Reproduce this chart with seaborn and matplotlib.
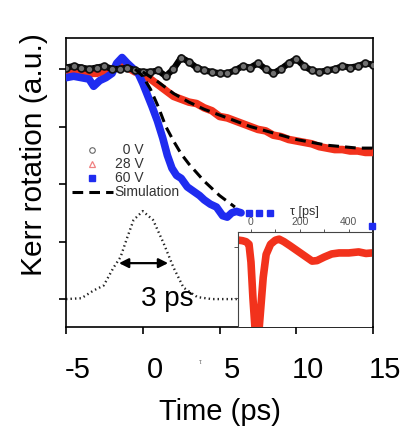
import numpy as np
import pandas as pd
import seaborn as sns
import matplotlib
matplotlib.use("Agg")
import matplotlib.pyplot as plt
from matplotlib.lines import Line2D
import matplotlib.transforms as mtrans

# ---------------- data ----------------
t_0v = [-5, -4.5, -4, -3.5, -3, -2.5, -2, -1.5, -1, -0.5, 0, 0.5, 1, 1.5, 2, 2.5, 3, 3.5, 4, 4.5,
        5, 5.5, 6, 6.5, 7, 7.5, 8, 8.5, 9, 9.5, 10, 10.5, 11, 11.5, 12, 12.5, 13, 13.5, 14, 14.5, 15]
kerr_0v = [1.005, 1.01, 1.005, 1.0, 1.005, 1.01, 1.0, 1.0, 1.005, 0.995, 0.99, 0.99, 0.995, 0.975,
           1.0, 1.04, 1.025, 1.005, 0.995, 0.99, 0.985, 0.985, 0.995, 1.01, 1.005, 1.02, 1.0, 0.985,
           1.0, 1.02, 1.035, 1.01, 0.995, 0.99, 0.995, 1.0, 1.01, 1.005, 1.01, 1.02, 1.015]

t_28v = [-5, -4, -3, -2, -1.5, -1, -0.5, 0, 0.5, 1, 1.5, 2, 2.5, 3, 3.5, 4, 4.5, 5, 5.5, 6, 6.5,
         7, 7.5, 8, 8.5, 9, 9.5, 10, 10.5, 11, 11.5, 12, 12.5, 13, 13.5, 14, 14.5, 15]
kerr_28v = [0.99, 0.985, 0.985, 1.0, 1.01, 1.005, 0.99, 0.98, 0.965, 0.945, 0.925, 0.905, 0.895,
            0.885, 0.88, 0.865, 0.855, 0.835, 0.83, 0.82, 0.81, 0.80, 0.79, 0.785, 0.77, 0.765,
            0.755, 0.75, 0.745, 0.74, 0.73, 0.725, 0.72, 0.72, 0.715, 0.715, 0.71, 0.71]

t_60v = [-5, -4.5, -4, -3.5, -3.2, -2.8, -2.4, -2.0, -1.7, -1.35, -1.0, -0.6, -0.3, 0.0, 0.3, 0.6,
         0.95, 1.3, 1.6, 1.9, 2.2, 2.5, 2.9, 3.3, 3.7, 4.0, 4.4, 4.8, 5.2, 5.5, 5.8, 6.1, 6.4]
kerr_60v = [0.97, 0.975, 0.97, 0.965, 0.94, 0.96, 0.97, 0.985, 1.02, 1.04, 1.02, 1.0, 0.985, 0.95,
            0.91, 0.87, 0.82, 0.76, 0.70, 0.655, 0.63, 0.62, 0.59, 0.575, 0.56, 0.545, 0.53, 0.52,
            0.49, 0.485, 0.5, 0.505, 0.5]
t_60v_tail = [6.9, 7.6, 8.3, 14.9]
kerr_60v_tail = [0.5, 0.5, 0.5, 0.455]

t_sim28 = [0, 1, 2, 3, 4, 5, 6, 7, 8, 9, 10, 11, 12, 13, 14, 15]
sim_28v = [0.99, 0.955, 0.915, 0.885, 0.86, 0.84, 0.82, 0.80, 0.785, 0.77, 0.755, 0.745, 0.735,
           0.73, 0.725, 0.725]

t_sim60 = [-0.5, 0, 0.5, 1, 1.5, 2, 2.5, 3, 3.5, 4, 4.5, 5, 5.5, 6]
sim_60v = [1.0, 0.975, 0.93, 0.87, 0.80, 0.75, 0.705, 0.67, 0.64, 0.61, 0.585, 0.56, 0.54, 0.52]

pulse_t = [-5, -4, -3.2, -2.55, -1.9, -1.45, -1.0, -0.6, 0, 0.67, 1.35, 2.0, 2.65, 3.55, 4.5, 6.2]
pulse_y = [0.2, 0.203, 0.23, 0.247, 0.31, 0.346, 0.416, 0.475, 0.506, 0.475, 0.395, 0.31, 0.24,
           0.207, 0.2, 0.2]

inset_tau = [-50, -35, -20, -8, 0, 8, 18, 30, 40, 50, 62, 80, 100, 115, 135, 160, 190, 220, 250,
             270, 300, 330, 360, 400, 440, 470, 495]
inset_kerr = [0.13, 0.12, 0.10, 0.05, -0.3, -1.0, -1.7, -1.8, -1.2, -0.6, -0.15, 0.05, 0.13, 0.15,
              0.1, 0.02, -0.08, -0.18, -0.28, -0.27, -0.2, -0.14, -0.12, -0.12, -0.1, -0.13, -0.12]

x_ticks = [-5, 0, 5, 10, 15]
y_ticks = [0.2, 0.4, 0.6, 0.8, 1.0]
inset_ticks = [0, 200, 400]
legend_labels = ["  0 V", "28 V", "60 V", "Simulation"]

RED = "#f2321c"
BLUE = "#1f2cf0"

# ---------------- figure ----------------
sns.set_style("ticks")
plt.rcParams["font.family"] = ["Liberation Sans", "DejaVu Sans"]
plt.rcParams["text.color"] = "black"
plt.rcParams["axes.labelcolor"] = "black"
plt.rcParams["xtick.color"] = "black"
plt.rcParams["ytick.color"] = "black"

fig = plt.figure(figsize=(4.10, 4.29), dpi=100)
ax = fig.add_axes([0.161, 0.2378, 0.749, 0.6737])

sns.lineplot(x=t_28v, y=kerr_28v, ax=ax, color=RED, lw=5.5, zorder=3, sort=False)
sns.lineplot(x=t_60v, y=kerr_60v, ax=ax, color=BLUE, lw=5.5, zorder=4, sort=False)
ax.plot(t_60v_tail, kerr_60v_tail, ls="none", marker="s", ms=5, color=BLUE, zorder=4, clip_on=False)
sns.lineplot(x=t_0v, y=kerr_0v, ax=ax, color="black", lw=4.5, zorder=5, sort=False,
             marker="o", markersize=5, markerfacecolor="#707070", markeredgecolor="#111111",
             markeredgewidth=1.2)
sns.lineplot(x=t_sim28, y=sim_28v, ax=ax, color="black", lw=2.2, zorder=6, sort=False,
             linestyle=(0, (3.5, 2)))
sns.lineplot(x=t_sim60, y=sim_60v, ax=ax, color="black", lw=2.2, zorder=6, sort=False,
             linestyle=(0, (3.5, 2)))
sns.lineplot(x=pulse_t, y=pulse_y, ax=ax, color="#222222", lw=1.7, zorder=2, sort=False,
             linestyle=(0, (0.6, 1.3)))

ax.annotate("", xy=(-1.55, 0.325), xytext=(1.65, 0.325),
            arrowprops=dict(arrowstyle="<|-|>", color="black", lw=1.6, mutation_scale=14,
                            shrinkA=0, shrinkB=0), zorder=7)
ax.text(1.6, 0.2, "3 ps", fontsize=20, ha="center", va="center", zorder=7)

ax.set_xlim(-5, 15)
ax.set_ylim(0.103, 1.108)
ax.set_xticks(x_ticks)
ax.set_xticklabels([str(v) for v in x_ticks])
ax.set_yticks(y_ticks)
ax.set_yticklabels([])
ax.tick_params(axis="both", direction="out", length=5, width=1.2, color="black", labelcolor="black")
ax.tick_params(axis="x", labelsize=21, pad=16)
offset = mtrans.ScaledTranslation(0.12, 0, fig.dpi_scale_trans)
for lab in ax.get_xticklabels():
    lab.set_transform(lab.get_transform() + offset)
for s in ax.spines.values():
    s.set_visible(True)
    s.set_linewidth(1.2)
    s.set_color("black")

ax.set_xlabel("Time (ps)", fontsize=21, labelpad=10, color="black")
ax.set_ylabel("Kerr rotation (a.u.)", fontsize=21.5, color="black")
ax.yaxis.set_label_coords(-0.06, 0.595)

handles = [
    Line2D([], [], ls="none", marker="o", ms=4, mfc="white", mec="#666666", mew=0.8),
    Line2D([], [], ls="none", marker="^", ms=5, mfc="white", mec="#f08080", mew=0.9),
    Line2D([], [], ls="none", marker="s", ms=4, color=BLUE),
    Line2D([], [], color="black", lw=2.2, ls=(0, (3.5, 2))),
]
leg = ax.legend(handles, legend_labels, loc="upper left", bbox_to_anchor=(0.018, 0.635),
                frameon=False, fontsize=10, handlelength=3.0, handletextpad=0.1,
                labelspacing=0.0, borderpad=0, borderaxespad=0)
for txt in leg.get_texts():
    txt.set_color("#333333")

fig.text(200 / 410, 1 - 362 / 429, "τ", fontsize=5, color="#777777", ha="center", va="center")

# ---------------- inset ----------------
axi = fig.add_axes([0.5805, 0.2378, 0.327, 0.2214])
axi.set_facecolor("white")
sns.lineplot(x=inset_tau, y=inset_kerr, ax=axi, color=RED, lw=5.5, sort=False)
axi.set_xlim(-53, 495)
axi.set_ylim(-1.57, 0.29)
axi.xaxis.tick_top()
axi.set_xticks(inset_ticks)
axi.set_xticks([100, 300], minor=True)
axi.set_yticks([0, -1])
axi.set_yticklabels([])
axi.tick_params(axis="x", which="both", top=True, bottom=False, labelsize=7.5, labelcolor="#555555",
                length=2.5, width=0.7, color="#555555", pad=1)
axi.tick_params(axis="y", length=3, width=0.7, color="#555555")
axi.set_xlabel("")
axi.set_ylabel("")
for side in ["bottom", "right"]:
    axi.spines[side].set_visible(False)
for side in ["top", "left"]:
    axi.spines[side].set_linewidth(0.8)
    axi.spines[side].set_color("#444444")
fig.text(304 / 410, 1 - 212 / 429, "τ [ps]", fontsize=9, color="#333333", ha="center", va="center")

fig.savefig("out.png", dpi=100)
